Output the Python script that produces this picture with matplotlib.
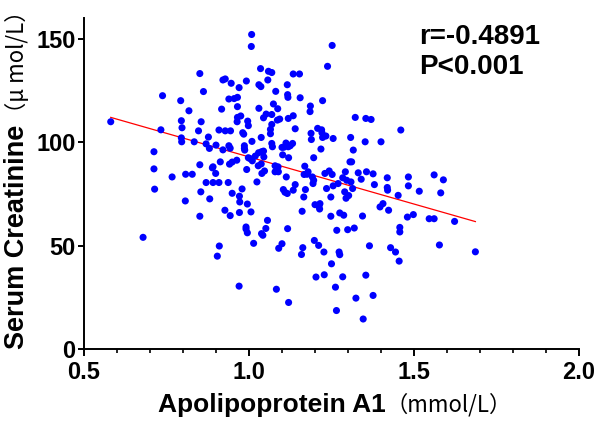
# %%
import matplotlib.pyplot as plt
import numpy as np

plt.rcParams["font.family"] = ["Liberation Sans", "DejaVu Sans"]

# Apolipoprotein A1 (mmol/L)
apoa1 = [
    0.581, 0.679, 0.712, 0.712, 0.714, 0.733, 0.738, 0.767, 0.793, 0.795,
    0.797, 0.795, 0.796, 0.808, 0.807, 0.818, 0.828, 0.834, 0.847, 0.851,
    0.851, 0.854, 0.851, 0.855, 0.862, 0.870, 0.870, 0.877, 0.880, 0.881,
    0.889, 0.891, 0.891, 0.899, 0.900, 0.904, 0.909, 0.910, 0.909, 0.913,
    0.917, 0.921, 0.921, 0.928, 0.928, 0.927, 0.937, 0.939, 0.939, 0.941,
    0.944, 0.943, 0.943, 0.946, 0.949, 0.949, 0.955, 0.963, 0.965, 0.965,
    0.965, 0.964, 0.970, 0.971, 0.972, 0.971, 0.970, 0.975, 0.979, 0.981,
    0.984, 0.986, 0.986, 0.987, 0.991, 0.991, 0.992, 0.993, 0.995, 0.995,
    0.996, 0.998, 0.998, 1.003, 1.006, 1.008, 1.007, 1.009, 1.010, 1.014,
    1.019, 1.024, 1.028, 1.029, 1.030, 1.030, 1.035, 1.036, 1.037, 1.037,
    1.038, 1.039, 1.038, 1.042, 1.044, 1.044, 1.045, 1.047, 1.052, 1.051,
    1.056, 1.057, 1.059, 1.065, 1.065, 1.069, 1.069, 1.069, 1.069, 1.071,
    1.074, 1.079, 1.079, 1.081, 1.083, 1.086, 1.087, 1.088, 1.089, 1.090,
    1.093, 1.100, 1.100, 1.102, 1.104, 1.106, 1.109, 1.112, 1.113, 1.116,
    1.116, 1.117, 1.117, 1.118, 1.119, 1.119, 1.120, 1.120, 1.125, 1.132,
    1.134, 1.134, 1.134, 1.140, 1.140, 1.153, 1.155, 1.159, 1.161, 1.163,
    1.166, 1.167, 1.169, 1.171, 1.176, 1.179, 1.185, 1.186, 1.188, 1.189,
    1.192, 1.194, 1.196, 1.196, 1.198, 1.200, 1.203, 1.208, 1.211, 1.212,
    1.214, 1.215, 1.218, 1.220, 1.221, 1.223, 1.223, 1.227, 1.228, 1.230,
    1.233, 1.235, 1.238, 1.243, 1.248, 1.248, 1.250, 1.252, 1.252, 1.255,
    1.255, 1.262, 1.265, 1.266, 1.270, 1.273, 1.275, 1.275, 1.284, 1.284,
    1.287, 1.290, 1.292, 1.294, 1.296, 1.299, 1.302, 1.306, 1.308, 1.309,
    1.311, 1.314, 1.316, 1.319, 1.322, 1.324, 1.331, 1.340, 1.344, 1.346,
    1.352, 1.354, 1.354, 1.356, 1.365, 1.370, 1.376, 1.376, 1.380, 1.397,
    1.400, 1.406, 1.419, 1.419, 1.420, 1.423, 1.429, 1.444, 1.452, 1.455,
    1.457, 1.457, 1.460, 1.480, 1.483, 1.483, 1.498, 1.516, 1.546, 1.561,
    1.561, 1.577, 1.581, 1.589, 1.623, 1.686,
]

# Serum creatinine (umol/L), same order
creatinine = [
    109.9, 54.0, 95.4, 87.1, 77.3, 106.0, 122.5, 83.2, 120.1, 110.4,
    107.0, 102.1, 100.2, 84.5, 71.6, 115.2, 84.5, 100.2, 105.5, 133.2,
    89.1, 76.0, 64.2, 109.9, 124.5, 99.2, 80.5, 102.5, 97.0, 72.6,
    87.6, 80.5, 88.1, 84.9, 98.6, 44.9, 105.9, 49.8, 80.5, 90.5,
    116.0, 130.1, 96.3, 130.6, 105.5, 67.1, 80.5, 120.9, 98.3, 89.4,
    105.5, 64.5, 97.1, 128.5, 90.4, 75.3, 121.1, 91.3, 121.7, 117.2,
    112.0, 109.9, 126.4, 73.9, 71.1, 66.0, 30.4, 112.7, 77.4, 104.6,
    103.9, 98.3, 97.0, 96.2, 59.0, 58.0, 129.6, 86.8, 70.1, 56.2,
    110.2, 108.0, 92.5, 92.1, 66.3, 152.1, 146.3, 100.4, 91.0, 51.1,
    93.3, 80.8, 88.6, 94.9, 116.4, 127.8, 135.6, 126.9, 102.3, 89.5,
    95.4, 84.9, 55.8, 55.0, 111.8, 95.7, 92.9, 86.1, 113.6, 58.3,
    62.2, 130.1, 134.3, 106.2, 104.1, 108.6, 113.4, 133.7, 99.4, 97.8,
    118.5, 88.6, 85.7, 124.6, 28.9, 110.7, 116.2, 88.1, 85.7, 48.7,
    111.2, 50.9, 97.5, 93.9, 77.1, 97.6, 75.8, 99.6, 83.2, 75.2,
    127.8, 58.2, 123.0, 121.7, 111.5, 97.8, 92.5, 22.5, 98.3, 99.4,
    133.0, 112.8, 76.8, 79.5, 106.5, 133.0, 121.5, 45.7, 66.6, 49.0,
    73.5, 84.4, 88.4, 77.1, 84.5, 85.7, 114.8, 117.5, 104.3, 101.3,
    83.2, 80.0, 92.5, 81.6, 52.5, 69.8, 34.8, 106.7, 50.1, 69.0,
    67.7, 70.3, 96.7, 106.0, 104.6, 120.1, 102.3, 46.9, 35.9, 84.9,
    103.0, 77.6, 136.7, 86.1, 73.5, 64.2, 41.2, 84.4, 146.8, 78.9,
    101.8, 29.9, 18.6, 57.4, 80.0, 46.9, 45.6, 65.8, 34.9, 82.8,
    64.7, 76.0, 85.7, 72.9, 81.6, 57.7, 74.2, 90.5, 102.3, 80.8,
    90.5, 77.6, 96.2, 58.5, 112.0, 24.6, 85.2, 82.1, 64.3, 14.5,
    100.2, 35.7, 111.5, 85.7, 49.9, 111.0, 84.7, 25.9, 79.5, 68.7,
    100.2, 70.3, 82.8, 78.1, 76.8, 67.1, 49.0, 46.9, 74.3, 42.5,
    58.8, 56.6, 105.9, 63.8, 83.2, 78.9, 65.0, 76.3, 63.0, 63.0,
    84.2, 50.3, 75.5, 81.8, 61.7, 47.0,
]

# fitted line as drawn in the reference
fit_intercept = 138.5
fit_slope = -45.6

x_ticks = [0.5, 1.0, 1.5, 2.0]
y_ticks = [0, 50, 100, 150]

# %%
fig = plt.figure(figsize=(6, 4.22), dpi=100)
ax = fig.add_axes([0.14, 0.173, 0.825, 0.784])

ax.scatter(apoa1, creatinine, s=26, color="#0000ff", edgecolors="none", zorder=3)

xs = np.array([min(apoa1), max(apoa1)])
ax.plot(xs, fit_intercept + fit_slope * xs, color="#ff0000", lw=0.9, zorder=2)

ax.set_xlim(0.5, 2.0)
ax.set_ylim(0, 160)
ax.set_xticks(x_ticks)
ax.set_xticklabels([f"{t:.1f}" for t in x_ticks])
ax.set_xticks(np.arange(0.6, 2.0, 0.1), minor=True)
ax.set_yticks(y_ticks)

for s in ["top", "right"]:
    ax.spines[s].set_visible(False)
for s in ["left", "bottom"]:
    ax.spines[s].set_linewidth(1.4)

ax.tick_params(axis="x", which="major", length=5, width=1.4, pad=4)
ax.tick_params(axis="x", which="minor", length=3, width=1.2)
ax.tick_params(axis="y", which="major", length=4, width=1.4, pad=2)
for lab in ax.get_xticklabels() + ax.get_yticklabels():
    lab.set_fontsize(17)
    lab.set_fontweight("bold")

# axis labels, bold part + unit part in a plain CJK face
cjk = ["Noto Sans CJK SC", "DejaVu Sans"]
xl = fig.text(0.263, 0.040, "Apolipoprotein A1", fontsize=19, fontweight="bold",
              ha="left", va="center")
ax.annotate("（mmol/L）", xy=(1, 0.5), xycoords=xl, ha="left", va="center",
            fontsize=16, family=cjk)

yl = fig.text(0.028, 0.174, "Serum Creatinine", fontsize=19.5, fontweight="bold",
              rotation=90, ha="center", va="bottom")
ax.annotate("（μ mol/L）", xy=(0.5, 1), xycoords=yl, ha="center", va="bottom",
            rotation=90, fontsize=16, family=cjk)

fig.text(0.698, 0.912, "r=-0.4891", fontsize=20, fontweight="bold", va="center")
fig.text(0.698, 0.841, "P<0.001", fontsize=20, fontweight="bold", va="center")

fig.savefig("out.png", dpi=100)
